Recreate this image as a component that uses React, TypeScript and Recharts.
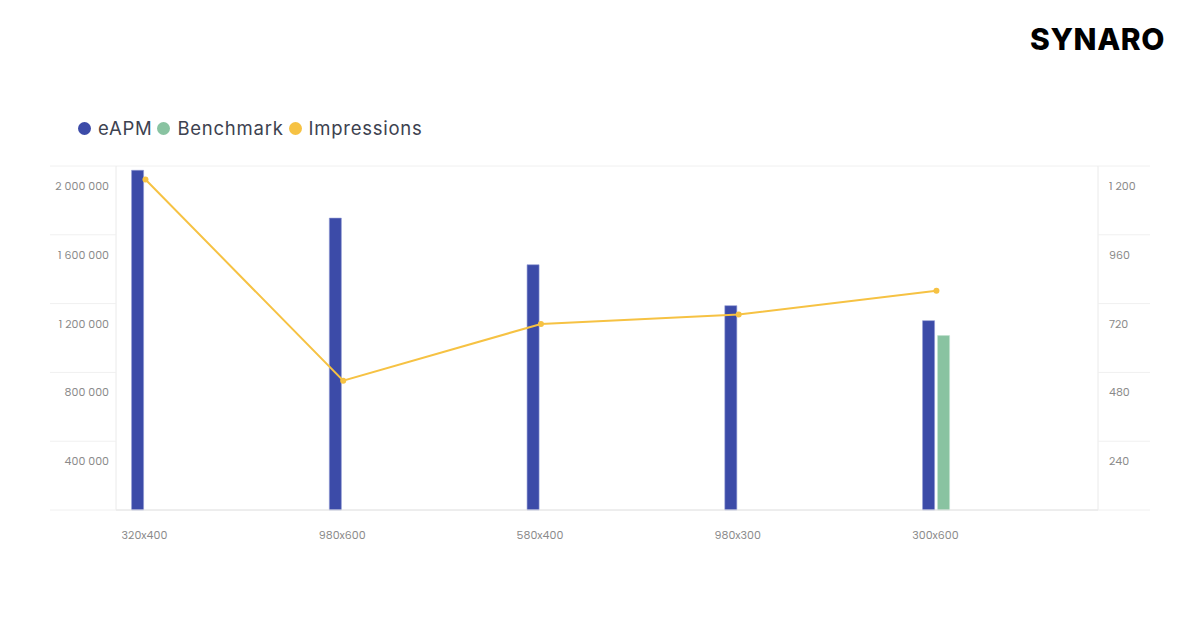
import React from 'react';
import { ComposedChart, Bar, Line, XAxis, YAxis, CartesianGrid } from 'recharts';

const categories = ['320x400', '980x600', '580x400', '980x300', '300x600'];
const eapmValues = [1975000, 1697000, 1426000, 1188000, 1101000];
const benchmarkValues: (number | null)[] = [null, null, null, null, 1014000];
const impressionValues = [1153, 451, 649, 682, 765];
const leftTicks = [0, 400000, 800000, 1200000, 1600000, 2000000];
const rightTicks = [0, 240, 480, 720, 960, 1200];

const seriesNames = ['eAPM', 'Benchmark', 'Impressions'];
const seriesColors = ['#3C4BA8', '#89C3A1', '#F6C243'];

const data = categories.map((name, i) => ({
  idx: i,
  name,
  eapm: eapmValues[i],
  benchmark: benchmarkValues[i],
  impressions: impressionValues[i],
}));

const fmt = (v: number) => String(v).replace(/\B(?=(\d{3})+(?!\d))/g, ' ');

const LeftTick = (props: any) => {
  const { x, y, payload } = props;
  if (payload.value === 0) return null;
  return (
    <text x={x + 61} y={y + 21} textAnchor="end" dominantBaseline="middle" fontSize={11} fill="#8a8a8a" fontFamily="Poppins, Inter, sans-serif">
      {fmt(payload.value)}
    </text>
  );
};

const RightTick = (props: any) => {
  const { x, y, payload } = props;
  if (payload.value === 0) return null;
  return (
    <text x={x - 43} y={y + 21} textAnchor="start" dominantBaseline="middle" fontSize={11} fill="#8a8a8a" fontFamily="Poppins, Inter, sans-serif">
      {fmt(payload.value)}
    </text>
  );
};

const BottomTick = (props: any) => {
  const { x, y, payload } = props;
  return (
    <text x={x - 1} y={y + 18} textAnchor="middle" dominantBaseline="middle" fontSize={11} fill="#8a8a8a" fontFamily="Poppins, Inter, sans-serif">
      {categories[payload.value]}
    </text>
  );
};

export default function App() {
  return (
    <div style={{ position: 'absolute', left: 0, top: 0, width: 1200, height: 628, background: '#fff', fontFamily: 'Inter, sans-serif' }}>
      <div style={{ position: 'absolute', left: 1030, top: 21, fontSize: 30, fontWeight: 800, color: '#000', letterSpacing: 0.6, fontFamily: 'Inter, sans-serif' }}>
        SYNARO
      </div>
      <div style={{ position: 'absolute', left: 78, top: 117, display: 'flex', alignItems: 'center', fontSize: 18.5, color: '#3d4250', fontFamily: 'Inter, sans-serif', letterSpacing: 0.75 }}>
        {seriesNames.map((n, i) => (
          <div key={n} style={{ display: 'flex', alignItems: 'center', marginRight: 5 }}>
            <span style={{ width: 13, height: 13, borderRadius: '50%', background: seriesColors[i], display: 'inline-block', marginRight: 7 }} />
            <span>{n}</span>
          </div>
        ))}
      </div>
      <ComposedChart
        width={1200}
        height={628}
        data={data}
        margin={{ top: 166, left: 0, right: 0, bottom: 78 }}
        barGap={3}
        style={{ position: 'absolute', left: 0, top: 0 }}
      >
        <CartesianGrid vertical={false} stroke="#f0f0f0" />
        <XAxis
          dataKey="idx"
          type="number"
          domain={[-0.149, 4.817]}
          ticks={[0, 1, 2, 3, 4]}
          allowDataOverflow
          height={40}
          axisLine={{ stroke: '#e4e4e4' }}
          tickLine={false}
          tick={<BottomTick />}
        />
        <YAxis
          yAxisId="left"
          orientation="left"
          width={116}
          domain={[0, 2000000]}
          ticks={leftTicks}
          axisLine={{ stroke: '#eaeaea' }}
          tickLine={{ stroke: '#f0f0f0' }}
          tickSize={66}
          tickMargin={2}
          tick={<LeftTick />}
        />
        <YAxis
          yAxisId="right"
          orientation="right"
          width={102}
          domain={[0, 1200]}
          ticks={rightTicks}
          axisLine={{ stroke: '#eaeaea' }}
          tickLine={{ stroke: '#f0f0f0' }}
          tickSize={52}
          tickMargin={2}
          tick={<RightTick />}
        />
        <Bar yAxisId="left" dataKey="eapm" name="eAPM" fill={seriesColors[0]} stroke="#8f98d4" strokeWidth={0.6} barSize={12} isAnimationActive={false} />
        <Bar yAxisId="left" dataKey="benchmark" name="Benchmark" fill={seriesColors[1]} stroke="#c2e2cf" strokeWidth={0.6} barSize={12} isAnimationActive={false} />
        <Line
          yAxisId="right"
          dataKey="impressions"
          name="Impressions"
          stroke={seriesColors[2]}
          strokeWidth={2}
          dot={{ r: 3, fill: seriesColors[2], stroke: seriesColors[2], strokeWidth: 0 }}
          activeDot={false}
          isAnimationActive={false}
        />
      </ComposedChart>
    </div>
  );
}
